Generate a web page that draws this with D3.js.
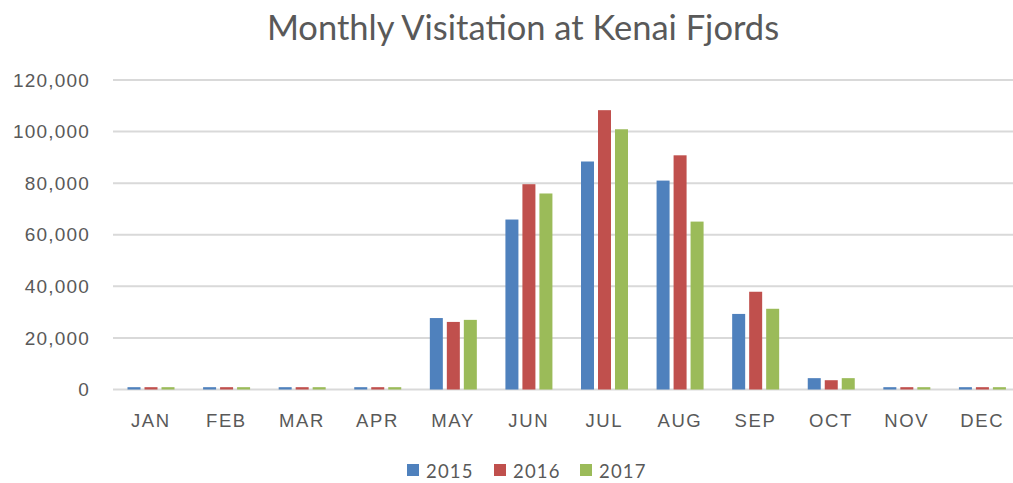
<!DOCTYPE html>
<html>
<head>
<meta charset="utf-8">
<script src="https://cdn.jsdelivr.net/npm/d3@7"></script>
<style>
  body { margin: 0; background: #fff; }
  svg { display: block; font-family: Lato, "Open Sans", sans-serif; }
</style>
</head>
<body>
<svg width="1013" height="483"></svg>
<script>
// data
var months = ["JAN", "FEB", "MAR", "APR", "MAY", "JUN", "JUL", "AUG", "SEP", "OCT", "NOV", "DEC"];
var years = ["2015", "2016", "2017"];
var v2015 = [900, 900, 900, 900, 27700, 65900, 88400, 81000, 29300, 4400, 900, 900];
var v2016 = [900, 900, 900, 900, 26200, 79600, 108300, 90800, 37900, 3600, 900, 900];
var v2017 = [900, 900, 900, 900, 27000, 76000, 100900, 65100, 31300, 4400, 900, 900];
var yTicks = [0, 20000, 40000, 60000, 80000, 100000, 120000];
var colors = ["#4f81bd", "#c0504d", "#9bbb59"];

var series = [v2015, v2016, v2017];

var svg = d3.select("svg");

var x0 = d3.scaleBand()
  .domain(months)
  .range([113, 1020]);

var x1 = d3.scaleBand()
  .domain(years)
  .range([14.5, 61.5])
  .paddingInner(0.235);

var y = d3.scaleLinear()
  .domain([0, 120000])
  .range([389.5, 80]);

var color = d3.scaleOrdinal().domain(years).range(colors);

// gridlines
svg.append("g")
  .selectAll("line")
  .data(yTicks)
  .enter().append("line")
  .attr("x1", 113)
  .attr("x2", 1020)
  .attr("y1", function(d) { return y(d); })
  .attr("y2", function(d) { return y(d); })
  .attr("stroke", "#d9d9d9")
  .attr("stroke-width", 2);

// y axis labels
var yAxis = svg.append("g")
  .attr("transform", "translate(113,0)")
  .call(d3.axisLeft(y).tickValues(yTicks).tickSize(0).tickPadding(23).tickFormat(d3.format(",")));
yAxis.select(".domain").remove();
yAxis.selectAll("text")
  .attr("fill", "#595959")
  .style("font-size", "19px")
  .style("letter-spacing", "1.2px");

// bars
var groups = svg.append("g")
  .selectAll("g")
  .data(months)
  .enter().append("g")
  .attr("transform", function(d) { return "translate(" + x0(d) + ",0)"; });

groups.selectAll("rect")
  .data(function(d, i) {
    return years.map(function(yr, j) { return { year: yr, value: series[j][i] }; });
  })
  .enter().append("rect")
  .attr("x", function(d) { return x1(d.year); })
  .attr("width", x1.bandwidth())
  .attr("y", function(d) { return y(d.value); })
  .attr("height", function(d) { return y(0) - y(d.value); })
  .attr("fill", function(d) { return color(d.year); });

// x axis labels
var xAxis = svg.append("g")
  .attr("transform", "translate(0,389.5)")
  .call(d3.axisBottom(x0).tickSize(0).tickPadding(24));
xAxis.select(".domain").remove();
xAxis.selectAll("text")
  .attr("fill", "#595959")
  .style("font-size", "18.5px")
  .style("letter-spacing", "1.6px");

// title
svg.append("text")
  .attr("x", 523)
  .attr("y", 40)
  .attr("text-anchor", "middle")
  .attr("fill", "#595959")
  .style("font-size", "34.5px")
  .text("Monthly Visitation at Kenai Fjords");

// legend
var legendX = [407, 494, 580];
var legend = svg.append("g")
  .selectAll("g")
  .data(years)
  .enter().append("g")
  .attr("transform", function(d, i) { return "translate(" + legendX[i] + ",464)"; });

legend.append("rect")
  .attr("width", 12)
  .attr("height", 12)
  .attr("fill", function(d) { return color(d); });

legend.append("text")
  .attr("x", 19)
  .attr("y", 13.5)
  .attr("fill", "#595959")
  .style("font-size", "18.5px")
  .style("letter-spacing", "1.2px")
  .text(function(d) { return d; });
</script>
</body>
</html>
